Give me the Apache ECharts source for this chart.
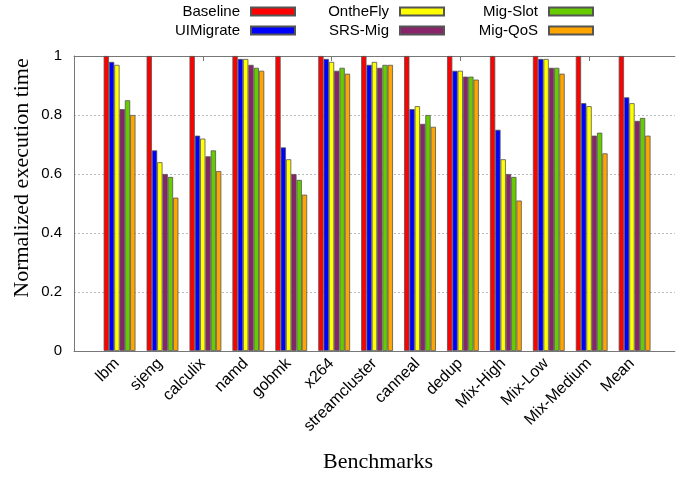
<!DOCTYPE html>
<html>
<head>
<meta charset="utf-8">
<script src="https://cdn.jsdelivr.net/npm/echarts@6/dist/echarts.min.js"></script>
<style>
  html, body { margin: 0; padding: 0; background: #fff; }
  #chart { width: 677px; height: 478px; }
</style>
</head>
<body>
<div id="chart"></div>
<script>
// Benchmarks on the x axis
const categories = ['lbm', 'sjeng', 'calculix', 'namd', 'gobmk', 'x264', 'streamcluster',
  'canneal', 'dedup', 'Mix-High', 'Mix-Low', 'Mix-Medium', 'Mean'];

// Normalized execution time per scheme
const baseline  = [1, 1, 1, 1, 1, 1, 1, 1, 1, 1, 1, 1, 1];
const uiMigrate = [0.98, 0.68, 0.73, 0.99, 0.69, 0.99, 0.97, 0.82, 0.95, 0.75, 0.99, 0.84, 0.86];
const onTheFly  = [0.97, 0.64, 0.72, 0.99, 0.65, 0.98, 0.98, 0.83, 0.95, 0.65, 0.99, 0.83, 0.84];
const srsMig    = [0.82, 0.60, 0.66, 0.97, 0.60, 0.95, 0.96, 0.77, 0.93, 0.60, 0.96, 0.73, 0.78];
const migSlot   = [0.85, 0.59, 0.68, 0.96, 0.58, 0.96, 0.97, 0.80, 0.93, 0.59, 0.96, 0.74, 0.79];
const migQoS    = [0.80, 0.52, 0.61, 0.95, 0.53, 0.94, 0.97, 0.76, 0.92, 0.51, 0.94, 0.67, 0.73];

// y axis ticks
const yTicks = { min: 0, max: 1, interval: 0.2 };

const seriesDefs = [
  { name: 'Baseline',  values: baseline,  color: '#ff0000' },
  { name: 'UIMigrate', values: uiMigrate, color: '#0000ff' },
  { name: 'OntheFly',  values: onTheFly,  color: '#ffff00' },
  { name: 'SRS-Mig',   values: srsMig,    color: '#87246a' },
  { name: 'Mig-Slot',  values: migSlot,   color: '#66cc00' },
  { name: 'Mig-QoS',   values: migQoS,    color: '#ffa500' }
];

const sans = '"Liberation Sans", Arial, sans-serif';
const serif = '"Liberation Serif", "Times New Roman", serif';

// one empty slot before each cluster, then one slot per scheme
const axisCats = [''].concat(categories, ['']);
const pad = arr => [null].concat(arr, [null]);

const series = [{ name: '_gap', type: 'bar', data: [], barWidth: 5.3, barGap: '0%', silent: true }]
  .concat(seriesDefs.map(s => ({
    name: s.name,
    type: 'bar',
    data: pad(s.values),
    barWidth: 5.3,
    barGap: '0%',
    itemStyle: { color: s.color, borderColor: '#555', borderWidth: 0.8 }
  })));

// legend: three columns of two entries, text left of swatch
const legendCols = [
  { names: ['Baseline', 'UIMigrate'], right: 677 - 296 },
  { names: ['OntheFly', 'SRS-Mig'],   right: 677 - 445 },
  { names: ['Mig-Slot', 'Mig-QoS'],   right: 677 - 594 }
];
const legends = [];
legendCols.forEach(col => {
  col.names.forEach((n, row) => {
    legends.push({
      data: [n],
      right: col.right,
      top: 4 + row * 19,
      align: 'right',
      icon: 'rect',
      itemWidth: 44,
      itemHeight: 8,
      padding: 0,
      selectedMode: false,
      textStyle: { fontFamily: sans, fontSize: 15, color: '#000', padding: [0, 6, 0, 0] }
    });
  });
});

const chart = echarts.init(document.getElementById('chart'), null, { renderer: 'canvas' });
chart.setOption({
  animation: false,
  backgroundColor: '#fff',
  legend: legends,
  grid: { left: 74, top: 56, width: 610, height: 295, containLabel: false },
  xAxis: [
    {
      type: 'category',
      data: axisCats,
      boundaryGap: false,
      position: 'bottom',
      axisLine: { lineStyle: { color: '#777', width: 1 } },
      axisTick: { show: false },
      axisLabel: { rotate: 45, margin: 10, fontFamily: sans, fontSize: 16, color: '#000', interval: 0 },
      splitLine: { show: false }
    },
    {
      type: 'category',
      data: axisCats,
      boundaryGap: false,
      position: 'top',
      axisLine: { lineStyle: { color: '#777', width: 1 } },
      axisTick: { show: true, inside: true, length: 5, lineStyle: { color: '#777' } },
      axisLabel: { show: false },
      splitLine: { show: false }
    }
  ],
  yAxis: {
    type: 'value',
    min: yTicks.min,
    max: yTicks.max,
    interval: yTicks.interval,
    axisLine: { show: true, lineStyle: { color: '#777', width: 1 } },
    axisTick: { show: false },
    axisLabel: { margin: 12, fontFamily: sans, fontSize: 15, color: '#000' },
    splitLine: { show: true, lineStyle: { color: '#bbb', type: [2, 2], width: 1 } }
  },
  graphic: [
    {
      type: 'text',
      x: 22, y: 178,
      rotation: Math.PI / 2,
      style: { text: 'Normalized execution time', font: '22px ' + serif, fill: '#000', align: 'center', verticalAlign: 'middle' }
    },
    {
      type: 'text',
      x: 378, y: 462,
      style: { text: 'Benchmarks', font: '22px ' + serif, fill: '#000', align: 'center', verticalAlign: 'middle' }
    }
  ],
  series: series
});
</script>
</body>
</html>
